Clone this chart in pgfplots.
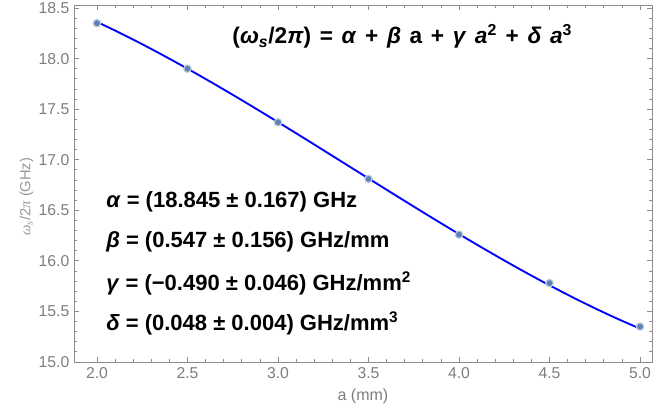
\documentclass[border=0pt]{standalone}
\usepackage{fontspec}
\setmainfont{Liberation Sans}
\newfontfamily\seriffont{Liberation Serif}
\usepackage{pgfplots}
\usetikzlibrary{calc}
\pgfplotsset{compat=1.18}
\definecolor{framegray}{RGB}{140,140,140}
\definecolor{ticklab}{RGB}{125,125,125}
\definecolor{ylab}{RGB}{150,150,150}
\definecolor{ptcol}{RGB}{94,129,181}
\newcommand\wsp{\hspace{0.38em}}
\begin{document}
\begin{tikzpicture}
\useasboundingbox (-55.5pt,-39pt) rectangle (448.5pt,271.5pt);
\begin{axis}[
  at={(0,0)}, anchor=south west,
  scale only axis, width=433.5pt, height=267.75pt,
  xmin=1.873, xmax=5.066, ymin=15, ymax=18.53,
  xtick={2,2.5,3,3.5,4,4.5,5}, ytick={15,15.5,16,16.5,17,17.5,18,18.5},
  minor x tick num=4, minor y tick num=4,
  tick align=inside, major tick length=4pt, minor tick length=2.2pt,
  axis line style={framegray, line width=0.7pt},
  tick style={framegray, line width=0.6pt},
  tick label style={font=\fontsize{11.8}{14}\selectfont, text=ticklab},
  xticklabel style={yshift=-0.5pt},
  /pgf/number format/.cd, fixed, fixed zerofill, precision=1, assume math mode=true,
  /pgfplots/.cd,
  xlabel={a (mm)},
  every axis x label/.style={at={(rel axis cs:0.5,0)}, anchor=center, yshift=-26pt, font=\fontsize{12}{14}\selectfont, text=ticklab},
  ylabel={{\seriffont\itshape ω\textsubscript{s}}/2{\seriffont\itshape π} (GHz)},
  every axis y label/.style={at={($(rel axis cs:0,0.463)+(-35.5pt,0)$)}, rotate=90, anchor=center, font=\fontsize{11}{13}\selectfont, text=ylab},
]
\addplot[only marks, mark=*, mark size=2.8pt, mark options={fill=ptcol, draw=ptcol!40, line width=0.9pt}] coordinates {
(2.0,18.35) (2.5,17.90) (3.0,17.37) (3.5,16.81) (4.0,16.26) (4.5,15.78) (5.0,15.35)
};
\addplot[blue, line width=1.4pt, smooth] coordinates {
(2.0,18.363) (2.125,18.2553) (2.25,18.1419) (2.375,18.0233) (2.5,17.900) (2.625,17.7727)
(2.75,17.6419) (2.875,17.5081) (3.0,17.372) (3.125,17.2341) (3.25,17.0949) (3.375,16.955)
(3.5,16.815) (3.625,16.6754) (3.75,16.5369) (3.875,16.3999) (4.0,16.265) (4.125,16.1328)
(4.25,16.0039) (4.375,15.8788) (4.5,15.758) (4.625,15.6422) (4.75,15.5319) (4.875,15.4276)
(5.0,15.330)
};
\node[anchor=center, inner sep=0pt, font=\fontsize{17}{20}\selectfont\bfseries] at (rel axis cs:0.568,0.912)
  {(\textit{ω}\textsubscript{\textit{s}}/2\textit{π})\wsp=\wsp\textit{α}\wsp+\wsp\textit{β}\wsp a\wsp+\wsp\textit{γ}\wsp\textit{a}\textsuperscript{2}\wsp+\wsp\textit{δ}\wsp\textit{a}\textsuperscript{3}};
\node[anchor=west, inner sep=0pt, font=\fontsize{16.5}{20}\selectfont\bfseries] at (rel axis cs:0.0554,0.448)
  {\textit{α} = (18.845 ± 0.167) GHz};
\node[anchor=west, inner sep=0pt, font=\fontsize{16.5}{20}\selectfont\bfseries] at (rel axis cs:0.0554,0.336)
  {\textit{β} = (0.547 ± 0.156) GHz/mm};
\node[anchor=west, inner sep=0pt, font=\fontsize{16.5}{20}\selectfont\bfseries] at (rel axis cs:0.0554,0.221)
  {\textit{γ} = (−0.490 ± 0.046) GHz/mm\textsuperscript{2}};
\node[anchor=west, inner sep=0pt, font=\fontsize{16.5}{20}\selectfont\bfseries] at (rel axis cs:0.0554,0.109)
  {\textit{δ} = (0.048 ± 0.004) GHz/mm\textsuperscript{3}};
\end{axis}
\end{tikzpicture}
\end{document}
